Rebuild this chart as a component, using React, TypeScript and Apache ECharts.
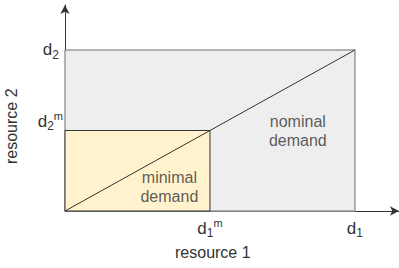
import React, { useEffect, useRef } from "react";
import * as echarts from "echarts";

// Demand levels (normalised units)
const resource1Levels = [0.5, 1]; // d1^m, d1
const resource2Levels = [0.5, 1]; // d2^m, d2
const regionNames = ["nominal", "minimal"];
// rectangles: [x0, y0, x1, y1]
const nominalRect = [0, 0, 1, 1];
const minimalRect = [0, 0, 0.5, 0.5];
// diagonal demand line points
const diagonalX = [0, 1];
const diagonalY = [0, 1];
// annotation labels: [x, y, text]
const annotations: [number, number, string][] = [
  [0.803, 0.497, "nominal\ndemand"],
  [0.36, 0.149, "minimal\ndemand"],
];

const xLabel = (v: number) => {
  if (Math.abs(v - resource1Levels[0]) < 1e-6) return "{d|d}{sub|1}{sup|m}";
  if (Math.abs(v - resource1Levels[1]) < 1e-6) return "{d|d}{sub|1}";
  return "";
};
const yLabel = (v: number) => {
  if (Math.abs(v - resource2Levels[0]) < 1e-6) return "{d|d}{sub|2}{supm|m}\n{sp| }";
  if (Math.abs(v - resource2Levels[1]) < 1e-6) return "{d|d}{sub|2}";
  return "";
};

const FONT = "Liberation Sans, Arial, sans-serif";
const TEXT = "#333333";

const rich = {
  d: { fontSize: 17, lineHeight: 22, verticalAlign: "middle", color: TEXT, fontFamily: FONT },
  sub: { fontSize: 12, lineHeight: 12, verticalAlign: "bottom", color: TEXT, fontFamily: FONT },
  sup: { fontSize: 11, lineHeight: 11, verticalAlign: "top", color: TEXT, fontFamily: FONT },
  supm: { fontSize: 11, lineHeight: 11, verticalAlign: "top", color: TEXT, fontFamily: FONT, padding: [0, -4, 0, 0] },
  sp: { fontSize: 4, lineHeight: 18, verticalAlign: "middle", color: TEXT, fontFamily: FONT },
};

export default function App() {
  const ref = useRef<HTMLDivElement>(null);
  useEffect(() => {
    if (!ref.current) return;
    const chart = echarts.init(ref.current, null, { renderer: "svg" });
    const rects = [
      { value: nominalRect, name: regionNames[0] },
      { value: minimalRect, name: regionNames[1] },
    ];
    chart.setOption({
      animation: false,
      backgroundColor: "#ffffff",
      grid: { left: 65, top: 5, right: 0, bottom: 57 },
      xAxis: {
        type: "value",
        min: 0,
        max: 1.152,
        interval: 0.5,
        splitLine: { show: false },
        axisTick: { show: false },
        axisLine: {
          lineStyle: { color: "#333", width: 1 },
          symbol: ["none", "arrow"],
          symbolSize: [7, 9],
        },
        axisLabel: {
          formatter: xLabel,
          rich,
          margin: 6,
          showMaxLabel: false,
        },
      },
      yAxis: {
        type: "value",
        min: 0,
        max: 1.2795,
        interval: 0.5,
        splitLine: { show: false },
        axisTick: { show: false },
        axisLine: {
          lineStyle: { color: "#333", width: 1 },
          symbol: ["none", "arrow"],
          symbolSize: [7, 9],
        },
        axisLabel: {
          formatter: yLabel,
          rich,
          margin: 6,
          showMaxLabel: false,
        },
      },
      graphic: [
        {
          type: "text",
          left: 175,
          top: 244,
          style: { text: "resource 1", fontSize: 16, fontFamily: FONT, fill: TEXT },
        },
        {
          type: "text",
          x: 3,
          y: 164,
          rotation: Math.PI / 2,
          style: { text: "resource 2", fontSize: 16, fontFamily: FONT, fill: TEXT },
        },
      ],
      series: [
        {
          type: "custom",
          data: rects,
          z: 1,
          renderItem: (params: any, api: any) => {
            const x0 = api.value(0), y0 = api.value(1), x1 = api.value(2), y1 = api.value(3);
            const p0 = api.coord([x0, y1]);
            const p1 = api.coord([x1, y0]);
            const isNominal = params.dataIndex === 0;
            return {
              type: "rect",
              shape: { x: p0[0], y: p0[1], width: p1[0] - p0[0], height: p1[1] - p0[1] },
              style: {
                fill: isNominal ? "#eeeeee" : "#fff2cc",
                stroke: isNominal ? "#9a9a9a" : "#333333",
                lineWidth: isNominal ? 1.5 : 1,
              },
            };
          },
        },
        {
          type: "line",
          data: diagonalX.map((x, i) => [x, diagonalY[i]]),
          symbol: "none",
          z: 3,
          lineStyle: { color: "#333333", width: 1 },
        },
        {
          type: "scatter",
          data: annotations.map((a) => [a[0], a[1]]),
          symbolSize: 0,
          z: 4,
          label: {
            show: true,
            position: "inside",
            formatter: (p: any) => annotations[p.dataIndex][2],
            fontSize: 16,
            lineHeight: 19,
            fontFamily: FONT,
            color: TEXT,
          },
        },
      ],
    });
    return () => chart.dispose();
  }, []);
  return (
    <div
      ref={ref}
      style={{ position: "fixed", left: 0, top: 0, width: 399, height: 268, background: "#fff" }}
    />
  );
}
